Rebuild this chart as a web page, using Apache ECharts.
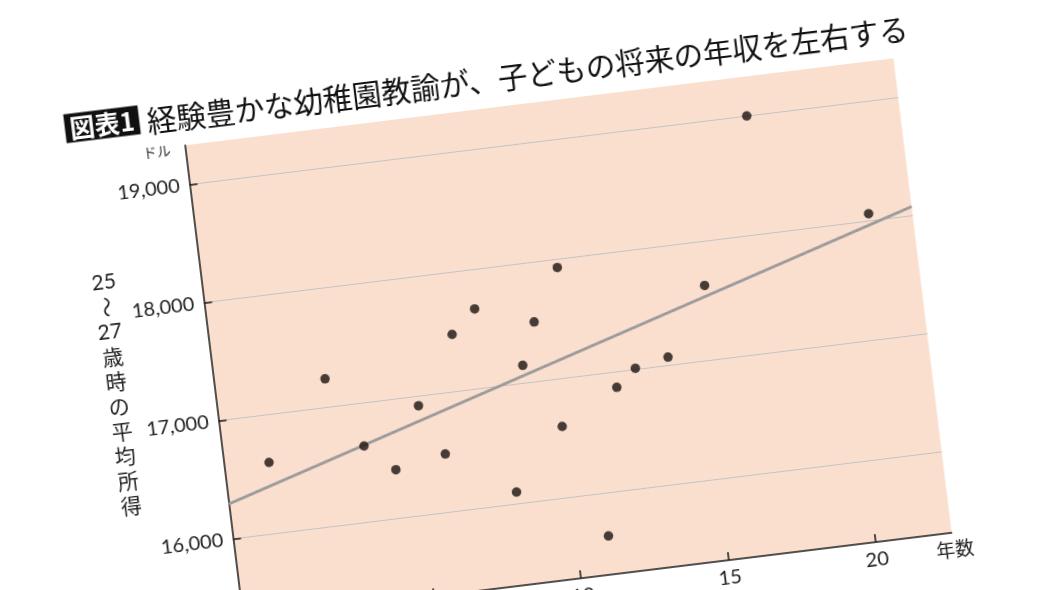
<!DOCTYPE html>
<html>
<head>
<meta charset="utf-8">
<script src="https://cdn.jsdelivr.net/npm/echarts@6/dist/echarts.min.js"></script>
<style>
  html, body { margin: 0; padding: 0; width: 1050px; height: 590px; overflow: hidden; background: #ffffff; }
  #chart { position: absolute; left: 0; top: 0; width: 1100px; height: 700px;
           transform-origin: 525px 295px; transform: rotate(-7deg); }
</style>
</head>
<body>
<div id="chart"></div>
<script>
// ---- data ----
const experienceYears = [0.02, 2.24, 3.27, 4.24, 5.26, 5.96, 6.68, 7.54, 8.19, 8.92,
                         9.48, 10.48, 9.99, 11.09, 11.98, 12.68, 13.82, 15.34, 17.45, 21.13];
const earningsUSD = [16600, 17240, 16640, 16410, 16920, 16490, 17480, 17670, 16100, 17150,
                     17500, 17930, 16600, 15640, 16870, 17010, 17070, 17630, 19000, 18060];
const fitLineX = [-1.5, 22.6];
const fitLineY = [16295, 18075];
const xTicks = [0, 5, 10, 15, 20];
const yTicks = [16000, 17000, 18000, 19000];
const xRange = [-1.5, 22.6];
const yRange = [15315, 19330];
const titleBadge = '図表1';
const titleText = '経験豊かな幼稚園教諭が、子どもの将来の年収を左右する';
const yUnit = 'ドル';
const xName = '年数';
const yNameParts = ['25', '〜', '27', '歳', '時', 'の', '平', '均', '所', '得'];

const points = experienceYears.map((x, i) => [x, earningsUSD[i]]);
const fitLine = fitLineX.map((x, i) => [x, fitLineY[i]]);

const numFont = 'Lato, "Noto Sans", sans-serif';
const jpFont = '"Noto Sans CJK JP", sans-serif';

const yNameGraphics = yNameParts.map((t, i) => ({
  type: 'text',
  x: 108.5,
  y: 231 + i * 25,
  rotation: t === '〜' ? -Math.PI / 2 : 0,
  style: {
    text: t,
    fill: '#222',
    font: (/\d/.test(t) ? '21px ' + numFont : '21px ' + jpFont),
    align: 'center',
    verticalAlign: 'middle'
  }
}));

const chart = echarts.init(document.getElementById('chart'), null, { renderer: 'canvas' });
chart.setOption({
  animation: false,
  backgroundColor: 'transparent',
  grid: {
    left: 205.5, top: 105, width: 714, height: 478,
    show: true, backgroundColor: '#fbdfce', borderWidth: 0
  },
  xAxis: {
    type: 'value',
    min: xRange[0], max: xRange[1],
    axisLine: { show: true, onZero: false, lineStyle: { color: '#1a1a1a', width: 1.5 } },
    axisTick: { show: true, inside: true, length: 8, customValues: xTicks, lineStyle: { color: '#1a1a1a', width: 1.5 } },
    axisLabel: { customValues: xTicks, margin: 8, color: '#222', fontSize: 20, fontFamily: numFont },
    splitLine: { show: false }
  },
  yAxis: {
    type: 'value',
    min: yRange[0], max: yRange[1],
    axisLine: { show: true, onZero: false, lineStyle: { color: '#1a1a1a', width: 1.5 } },
    axisTick: { show: true, inside: true, length: 8, customValues: yTicks, lineStyle: { color: '#1a1a1a', width: 1.5 } },
    axisLabel: {
      customValues: yTicks, margin: 10, color: '#222', fontSize: 20, fontFamily: numFont,
      formatter: v => v.toLocaleString('en-US')
    },
    splitLine: { show: true, lineStyle: { color: '#c2c3c6', width: 1 } }
  },
  series: [
    {
      type: 'line',
      data: fitLine,
      symbol: 'none',
      lineStyle: { color: '#9b9b9b', width: 3 },
      z: 2
    },
    {
      type: 'scatter',
      data: points,
      symbol: 'circle',
      symbolSize: 9.5,
      itemStyle: { color: '#1a1210' },
      z: 3
    }
  ],
  graphic: [
    {
      type: 'text', x: 126, y: 74,
      style: {
        text: titleBadge, fill: '#ffffff', backgroundColor: '#111111',
        font: 'bold 25px ' + jpFont, padding: [2, 5, 2, 5],
        align: 'center', verticalAlign: 'middle'
      }
    },
    {
      type: 'text', x: 171, y: 77,
      style: {
        text: titleText, fill: '#111111',
        font: '29.5px ' + jpFont,
        align: 'left', verticalAlign: 'middle'
      }
    },
    {
      type: 'text', x: 177, y: 108,
      style: { text: yUnit, fill: '#333', font: '14px ' + jpFont, align: 'center', verticalAlign: 'middle' }
    },
    {
      type: 'text', x: 921, y: 600,
      style: { text: xName, fill: '#222', font: '19px ' + jpFont, align: 'center', verticalAlign: 'middle' }
    }
  ].concat(yNameGraphics)
});
</script>
</body>
</html>
